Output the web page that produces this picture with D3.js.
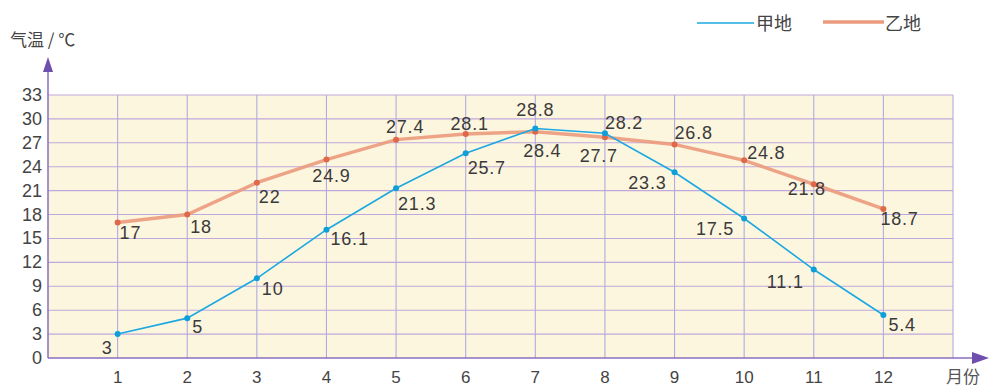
<!DOCTYPE html>
<html><head><meta charset="utf-8">
<script src="https://cdn.jsdelivr.net/npm/d3@7"></script>
<style>body{margin:0;background:#fff;}svg{display:block;}</style>
</head><body>
<svg id="c" width="991" height="388"></svg>
<script>
const months = [1,2,3,4,5,6,7,8,9,10,11,12];
const jiaValues = [3,5,10,16.1,21.3,25.7,28.8,28.2,23.3,17.5,11.1,5.4];
const yiValues = [17,18,22,24.9,27.4,28.1,28.4,27.7,26.8,24.8,21.8,18.7];
const yTicks = [0,3,6,9,12,15,18,21,24,27,30,33];
const seriesNames = ["甲地","乙地"];
const yAxisTitle = "气温 / ℃";
const xAxisTitle = "月份";
// label placement per point: [dx, dy, anchor]
const jiaLabelPos = [[-5,20,"end"],[5,15,"start"],[5,17,"start"],[4,15,"start"],[2,22,"start"],[2,21,"start"],[0,-12,"middle"],[0,-4,"start"],[-8,17,"end"],[-10,16,"end"],[-10,18,"end"],[5,16,"start"]];
const yiLabelPos = [[2,16,"start"],[3,18,"start"],[2,20,"start"],[5,22,"middle"],[9,-7,"middle"],[4,-4,"middle"],[7,25,"middle"],[13,25,"end"],[0,-5,"start"],[3,-1,"start"],[-7,11,"middle"],[-3,16,"start"]];

const svg = d3.select("#c");
const x = d3.scaleLinear().domain([0,13]).range([48,953]);
const y = d3.scaleLinear().domain([0,33]).range([358,95]);
const axisCol = "#8a6cc0";
const textCol = "#3a3a3a";

svg.append("rect").attr("x",x(0)).attr("y",y(33)).attr("width",x(13)-x(0)).attr("height",y(0)-y(33)).attr("fill","#fdf6df");

// horizontal grid
svg.append("g").selectAll("line").data(yTicks.filter(d=>d>0)).join("line")
  .attr("x1",x(0)).attr("x2",x(13)).attr("y1",d=>y(d)).attr("y2",d=>y(d))
  .attr("stroke","#bfa8dc").attr("stroke-width",1.1);
// vertical grid
svg.append("g").selectAll("line").data(months.concat([13])).join("line")
  .attr("x1",d=>x(d)).attr("x2",d=>x(d)).attr("y1",y(33)).attr("y2",y(0))
  .attr("stroke","#b0abe0").attr("stroke-width",1.1);

// axes
svg.append("line").attr("x1",x(0)).attr("x2",x(0)).attr("y1",y(0)).attr("y2",66).attr("stroke",axisCol).attr("stroke-width",1.5);
svg.append("path").attr("d",`M${x(0)-5},72 L${x(0)},57 L${x(0)+5},72 Z`).attr("fill","#6e4fae");
svg.append("line").attr("x1",x(0)).attr("x2",975).attr("y1",y(0)).attr("y2",y(0)).attr("stroke",axisCol).attr("stroke-width",1.5);
svg.append("path").attr("d",`M972,${y(0)-6} L989,${y(0)} L972,${y(0)+6} Z`).attr("fill","#6e4fae");

// y ticks
svg.append("g").selectAll("text").data(yTicks).join("text")
  .attr("x",42).attr("y",d=>y(d)+6).attr("text-anchor","end")
  .attr("font-family","Liberation Sans, Arial, sans-serif").attr("font-size",18).attr("fill","#444")
  .text(d=>d);
// x ticks
svg.append("g").selectAll("text").data(months).join("text")
  .attr("x",d=>x(d)).attr("y",383).attr("text-anchor","middle")
  .attr("font-family","Liberation Sans, Arial, sans-serif").attr("font-size",17).attr("fill","#444")
  .text(d=>d);

svg.append("text").attr("x",10).attr("y",46).attr("font-family","Noto Sans CJK SC, sans-serif").attr("font-size",17).attr("fill","#444").text(yAxisTitle);
svg.append("text").attr("x",946).attr("y",383).attr("font-family","Noto Sans CJK SC, sans-serif").attr("font-size",17).attr("fill","#555").text(xAxisTitle);

const line = d3.line().x((d,i)=>x(months[i])).y(d=>y(d));

// 乙地
svg.append("path").datum(yiValues).attr("d",line).attr("fill","none").attr("stroke","#eb9a7c").attr("stroke-width",3.5).attr("opacity",0.9);
svg.append("g").selectAll("circle").data(yiValues).join("circle")
  .attr("cx",(d,i)=>x(months[i])).attr("cy",d=>y(d)).attr("r",3).attr("fill","#e0684a");
// 甲地
svg.append("path").datum(jiaValues).attr("d",line).attr("fill","none").attr("stroke","#1ca8e0").attr("stroke-width",1.6);
svg.append("g").selectAll("circle").data(jiaValues).join("circle")
  .attr("cx",(d,i)=>x(months[i])).attr("cy",d=>y(d)).attr("r",3).attr("fill","#0e9fd8");

function labels(vals,pos){
  svg.append("g").selectAll("text").data(vals).join("text")
    .attr("x",(d,i)=>x(months[i])+pos[i][0]).attr("y",(d,i)=>y(d)+pos[i][1])
    .attr("text-anchor",(d,i)=>pos[i][2])
    .attr("font-family","Liberation Sans, Arial, sans-serif").attr("font-size",18).attr("letter-spacing",0.8)
    .attr("fill",textCol).text(d=>d);
}
labels(jiaValues,jiaLabelPos);
labels(yiValues,yiLabelPos);

// legend
svg.append("line").attr("x1",697).attr("x2",754).attr("y1",23).attr("y2",23).attr("stroke","#1ca8e0").attr("stroke-width",1.6);
svg.append("text").attr("x",756).attr("y",30).attr("font-family","Noto Sans CJK SC, sans-serif").attr("font-size",18).attr("fill","#444").text(seriesNames[0]);
svg.append("line").attr("x1",823).attr("x2",884).attr("y1",22).attr("y2",22).attr("stroke","#eb9a7c").attr("stroke-width",3.5);
svg.append("text").attr("x",885).attr("y",30).attr("font-family","Noto Sans CJK SC, sans-serif").attr("font-size",18).attr("fill","#444").text(seriesNames[1]);
</script>
</body></html>
